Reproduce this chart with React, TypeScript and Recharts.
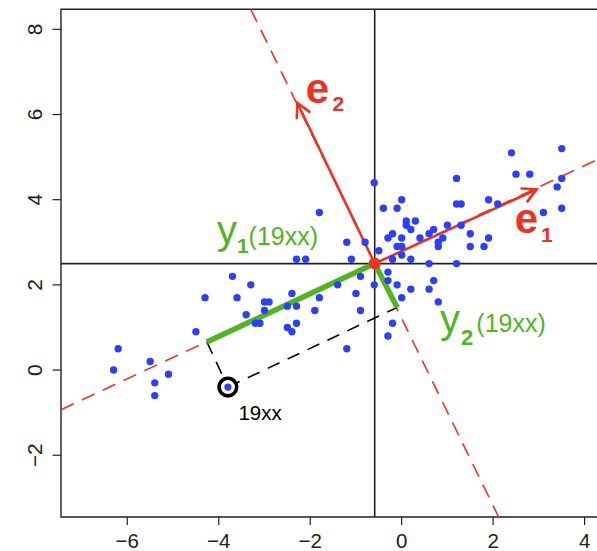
import React from 'react';
import {
  ScatterChart,
  Scatter,
  XAxis,
  YAxis,
  ReferenceLine,
  ReferenceArea,
  ReferenceDot,
} from 'recharts';

const X_TICKS = [-6, -4, -2, 0, 2, 4];
const Y_TICKS = [-2, 0, 2, 4, 6, 8];
const X_DOMAIN: [number, number] = [-7.45, 4.7];
const Y_DOMAIN: [number, number] = [-3.45, 8.47];

const OBS_X = [
  -6.2, -6.3, -5.5, -5.1, -5.4, -5.4, -4.5, -4.3, -3.7, -3.6, -3.3, -3.4, -3.0, -3.0, -2.9,
  -2.4, -2.5, -2.3, -3.2, -3.1, -2.5, -2.4, -2.3, -2.3, -2.1, -1.8, -1.2, -0.8, -1.1, -1.4,
  -0.9, -1.0, -1.8, -1.9, -0.9, -1.2, -0.6, 0.0, -0.4, -0.1, 1.2, 1.2, 1.3, 0.1, 0.3,
  0.1, 0.2, -0.2, -0.3, 0.0, 0.4, 0.6, 0.7, 1.0, 0.9, 0.8, 0.8, -0.1, 0.0, -0.5,
  0.0, -0.2, 0.2, 0.6, 1.2, -0.3, -0.3, -0.6, 0.7, -0.1, 0.2, 0.6, 0.0, 0.8, -0.2,
  -0.3, 2.4, 3.5, 2.5, 2.8, 3.5, 3.4, 1.9, 2.1, 3.1, 3.5, 1.3, 1.5, 1.9, 1.5, 1.8,
];
const OBS_Y = [
  0.5, 0.0, 0.2, -0.1, -0.3, -0.6, 0.9, 1.7, 2.2, 1.7, 2.0, 1.3, 1.4, 1.6, 1.6,
  1.8, 1.5, 1.5, 1.1, 1.1, 1.0, 0.9, 1.1, 2.6, 2.6, 3.7, 3.0, 3.0, 2.6, 2.0,
  2.2, 1.8, 1.7, 1.4, 1.4, 0.5, 4.4, 4.0, 3.8, 3.8, 4.5, 3.9, 3.9, 3.5, 3.5,
  3.4, 3.3, 3.2, 3.1, 3.1, 3.1, 3.2, 3.3, 3.4, 3.1, 3.0, 2.9, 2.9, 2.9, 2.8,
  2.7, 2.6, 2.6, 2.5, 2.5, 2.3, 2.1, 2.0, 2.1, 2.0, 1.9, 1.9, 1.7, 1.6, 1.1,
  0.8, 5.1, 5.2, 4.6, 4.6, 4.5, 4.3, 4.0, 3.9, 3.7, 3.8, 3.4, 3.2, 3.1, 2.9, 2.9,
];

const MEAN = { x: -0.59, y: 2.5 };
const HIGHLIGHT = { x: -3.8, y: -0.4 }; // the "19xx" year
const E1_TIP = { x: 2.95, y: 4.24 };
const E2_TIP = { x: -2.28, y: 6.27 };
const PC1_AXIS = [{ x: -7.45, y: -0.93 }, { x: 4.7, y: 5.15 }];
const PC2_AXIS = [{ x: -3.3, y: 8.47 }, { x: 2.12, y: -3.45 }];
const Y1_END = { x: -4.26, y: 0.66 };
const Y2_END = { x: -0.1, y: 1.47 };

const RED = '#EC3223';
const BLUE = '#2B3FFF';
const GREEN = '#52B420';
const INK = '#222';
const FONT = '"Liberation Sans", Arial, Helvetica, sans-serif';

const points = OBS_X.map((x, i) => ({ x, y: OBS_Y[i] }));

const fmt = (v: number) => (v < 0 ? `\u2212${-v}` : `${v}`);

const XTick = (props: any) => {
  const { x, y, payload } = props;
  return (
    <text x={x} y={y + 21} textAnchor="middle" fontSize={20.5} fontFamily={FONT} fill={INK}>
      {fmt(payload.value)}
    </text>
  );
};

const YTick = (props: any) => {
  const { x, y, payload } = props;
  const bx = x - 8.8;
  return (
    <text
      x={bx}
      y={y}
      transform={`rotate(-90, ${bx}, ${y})`}
      textAnchor="middle"
      fontSize={21}
      fontFamily={FONT}
      fill={INK}
    >
      {fmt(payload.value)}
    </text>
  );
};

const Arrow = (props: any) => {
  const { x1, y1, x2, y2 } = props;
  const a = Math.atan2(y2 - y1, x2 - x1);
  const len = 15;
  const spread = (28 * Math.PI) / 180;
  const p1 = [x2 - len * Math.cos(a - spread), y2 - len * Math.sin(a - spread)];
  const p2 = [x2 - len * Math.cos(a + spread), y2 - len * Math.sin(a + spread)];
  return (
    <g stroke={RED} strokeWidth={2.6} fill="none" strokeLinecap="round">
      <line x1={x1} y1={y1} x2={x2} y2={y2} />
      <path d={`M${p1[0]},${p1[1]} L${x2},${y2} L${p2[0]},${p2[1]}`} />
    </g>
  );
};

const Dot = (props: any) => <circle cx={props.cx} cy={props.cy} r={3.7} fill={BLUE} />;

const Ringed = (props: any) => (
  <g>
    <circle cx={props.cx} cy={props.cy} r={8.8} fill="#fff" stroke="#000" strokeWidth={3.6} />
    <circle cx={props.cx} cy={props.cy} r={3.6} fill={BLUE} />
  </g>
);

const label = (content: React.ReactNode) => (props: any) => (
  <text x={props.cx} y={props.cy} fontFamily={FONT}>
    {content}
  </text>
);

export default function App() {
  return (
    <div
      style={{
        position: 'absolute',
        left: 0,
        top: 0,
        width: 597,
        height: 551,
        overflow: 'hidden',
        background: '#fff',
      }}
    >
      <ScatterChart width={640} height={551} margin={{ top: 9.3, right: 23.4, bottom: 0, left: 0 }}>
        <XAxis
          type="number"
          dataKey="x"
          domain={X_DOMAIN}
          ticks={X_TICKS}
          allowDataOverflow
          height={34}
          tickSize={8}
          axisLine={false}
          tickLine={{ stroke: INK, strokeWidth: 1.2 }}
          tick={<XTick />}
        />
        <YAxis
          type="number"
          dataKey="y"
          domain={Y_DOMAIN}
          ticks={Y_TICKS}
          allowDataOverflow
          width={61}
          tickSize={8.5}
          axisLine={false}
          tickLine={{ stroke: INK, strokeWidth: 1.2 }}
          tick={<YTick />}
        />
        <ReferenceArea
          x1={X_DOMAIN[0]}
          x2={X_DOMAIN[1]}
          y1={Y_DOMAIN[0]}
          y2={Y_DOMAIN[1]}
          fill="none"
          fillOpacity={0}
          stroke={INK}
          strokeWidth={1.4}
          ifOverflow="visible"
        />
        <ReferenceLine x={MEAN.x} stroke={INK} strokeWidth={1.6} />
        <ReferenceLine y={MEAN.y} stroke={INK} strokeWidth={1.6} />

        <Scatter data={points} shape={<Dot />} isAnimationActive={false} />

        <ReferenceLine segment={PC1_AXIS} stroke={RED} strokeWidth={1.6} strokeDasharray="14 9" ifOverflow="visible" />
        <ReferenceLine segment={PC2_AXIS} stroke={RED} strokeWidth={1.6} strokeDasharray="14 9" ifOverflow="visible" />
        <ReferenceLine segment={[Y1_END, HIGHLIGHT]} stroke="#000" strokeWidth={1.6} strokeDasharray="13 9" />
        <ReferenceLine segment={[HIGHLIGHT, Y2_END]} stroke="#000" strokeWidth={1.6} strokeDasharray="13 9" />
        <ReferenceLine segment={[MEAN, Y1_END]} stroke={GREEN} strokeWidth={5.5} />
        <ReferenceLine segment={[MEAN, Y2_END]} stroke={GREEN} strokeWidth={5.5} />
        <ReferenceLine segment={[MEAN, E1_TIP]} shape={Arrow} />
        <ReferenceLine segment={[MEAN, E2_TIP]} shape={Arrow} />

        <Scatter data={[HIGHLIGHT]} shape={<Ringed />} isAnimationActive={false} />
        <ReferenceDot x={MEAN.x} y={MEAN.y} r={6} fill={RED} stroke="none" />

        <ReferenceDot
          x={-2.1}
          y={6.27}
          r={0}
          shape={label(
            <>
              <tspan fontSize={42} fontWeight="bold" fill={RED}>e</tspan>
              <tspan fontSize={21} fontWeight="bold" fill={RED} dx={3.5} dy={8}>2</tspan>
            </>,
          )}
        />
        <ReferenceDot
          x={2.47}
          y={3.22}
          r={0}
          shape={label(
            <>
              <tspan fontSize={42} fontWeight="bold" fill={RED}>e</tspan>
              <tspan fontSize={21} fontWeight="bold" fill={RED} dx={3} dy={8.7}>1</tspan>
            </>,
          )}
        />
        <ReferenceDot
          x={-4.04}
          y={2.96}
          r={0}
          shape={label(
            <>
              <tspan fontSize={40} fill={GREEN}>y</tspan>
              <tspan fontSize={21} fontWeight="bold" fill={GREEN} dy={8.7}>1</tspan>
              <tspan fontSize={25} fill={GREEN} dy={-7.7}>(19xx)</tspan>
            </>,
          )}
        />
        <ReferenceDot
          x={0.84}
          y={0.88}
          r={0}
          shape={label(
            <>
              <tspan fontSize={40} fill={GREEN}>y</tspan>
              <tspan fontSize={22} fontWeight="bold" fill={GREEN} dx={1} dy={12.5}>2</tspan>
              <tspan fontSize={25} fill={GREEN} dx={3} dy={-13.5}>(19xx)</tspan>
            </>,
          )}
        />
        <ReferenceDot
          x={-3.57}
          y={-1.17}
          r={0}
          shape={label(
            <tspan fontSize={20.5} fill="#000">19xx</tspan>,
          )}
        />
      </ScatterChart>
    </div>
  );
}
